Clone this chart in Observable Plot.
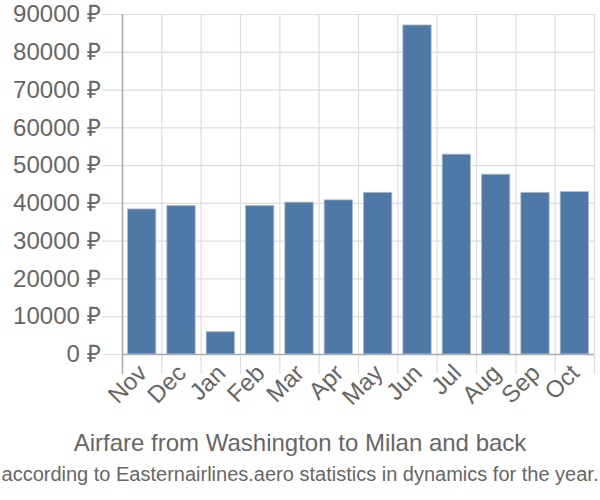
<!DOCTYPE html>
<html>
<head>
<meta charset="utf-8">
<script src="https://cdn.jsdelivr.net/npm/d3@7"></script>
<script src="https://cdn.jsdelivr.net/npm/@observablehq/plot@0.6"></script>
<style>
  html, body { margin: 0; padding: 0; background: #fff; }
  #wrap { width: 600px; font-family: "Liberation Sans", Arial, sans-serif; color: #666; }
  .title { text-align: center; font-size: 24px; line-height: 28px; margin-top: 4px; white-space: nowrap; }
  .subtitle { text-align: center; font-size: 20px; line-height: 24px; margin-top: 5px; white-space: nowrap; }
</style>
</head>
<body>
<div id="wrap"></div>
<script>
const months = ["Nov","Dec","Jan","Feb","Mar","Apr","May","Jun","Jul","Aug","Sep","Oct"];
const prices = [38400, 39300, 5900, 39300, 40200, 40800, 42800, 87100, 52900, 47600, 42800, 43000];
const yTicks = [0, 10000, 20000, 30000, 40000, 50000, 60000, 70000, 80000, 90000];
const title = "Airfare from Washington to Milan and back";
const subtitle = "according to Easternairlines.aero statistics in dynamics for the year.";

const data = months.map((m, i) => ({month: m, i, price: prices[i]}));
const bounds = d3.range(months.length + 1);

const chart = Plot.plot({
  width: 600,
  height: 425,
  marginTop: 14,
  marginBottom: 71,
  marginLeft: 122,
  marginRight: 6,
  style: {fontFamily: "Liberation Sans, Arial, sans-serif", fontSize: "24px", color: "#666", background: "#fff"},
  x: {type: "linear", domain: [0, months.length], axis: null},
  y: {domain: [0, 90000], axis: null},
  marks: [
    Plot.ruleY(yTicks, {y: d => d, stroke: "#ddd", strokeWidth: 1.2, insetLeft: -20}),
    Plot.ruleX(bounds, {x: d => d, stroke: "#ddd", strokeWidth: 1.2, insetBottom: -20}),
    Plot.rectY(data, {x1: "i", x2: d => d.i + 1, y: "price", insetLeft: 5.5, insetRight: 5.5, fill: "#4e79a7", stroke: "#a9bdd6", strokeWidth: 0.8}),
    Plot.ruleX([0], {stroke: "#aaa", strokeWidth: 1.5, insetBottom: -20}),
    Plot.ruleY([0], {stroke: "#aaa", strokeWidth: 1.5}),
    Plot.axisY(yTicks, {label: null, tickSize: 0, tickPadding: 22, fill: "#666", tickFormat: d => d + " ₽", fontSize: 24}),
    Plot.text(data, {x: d => d.i + 0.5, text: "month", frameAnchor: "bottom", rotate: -45, textAnchor: "end", dx: 6, dy: 20, fill: "#666", fontSize: 24})
  ]
});

const wrap = document.getElementById("wrap");
wrap.appendChild(chart);
const t = document.createElement("div"); t.className = "title"; t.textContent = title; wrap.appendChild(t);
const s = document.createElement("div"); s.className = "subtitle"; s.textContent = subtitle; wrap.appendChild(s);
</script>
</body>
</html>
